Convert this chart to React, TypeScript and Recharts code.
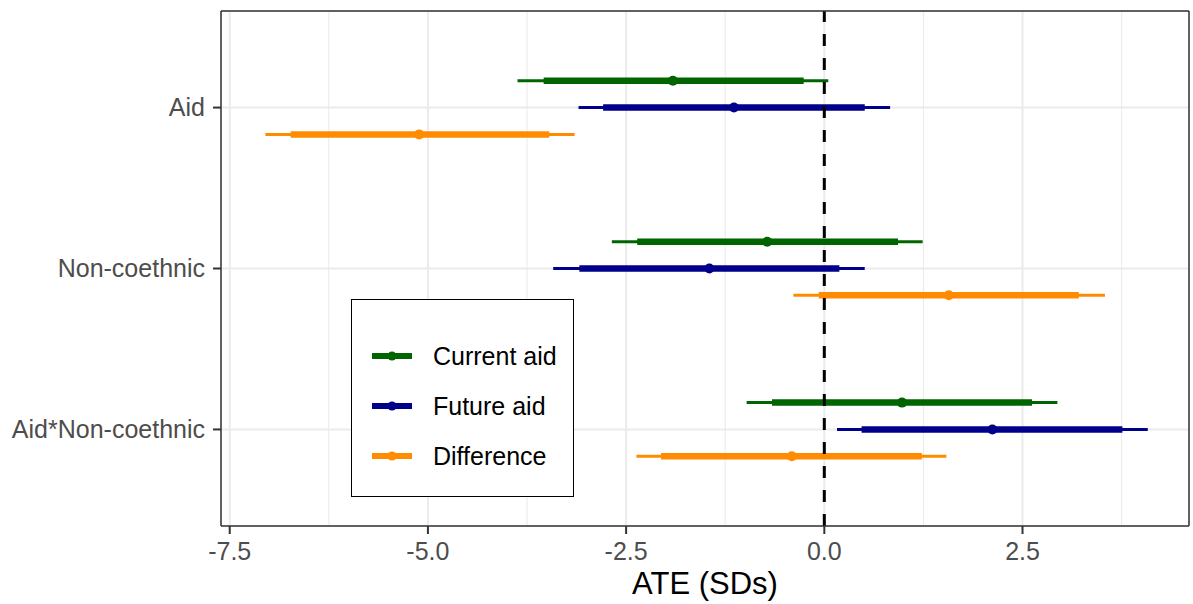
import React from 'react';
import {
  ScatterChart,
  Scatter,
  XAxis,
  YAxis,
  CartesianGrid,
  ErrorBar,
  ReferenceLine,
  Legend,
} from 'recharts';

// ---- data ----
const categories = ['Aid', 'Non-coethnic', 'Aid*Non-coethnic'];
const seriesNames = ['Current aid', 'Future aid', 'Difference'];
const seriesColors = ['#006400', '#00008B', '#FF8C00'];

const currentEst = [-1.91, -0.72, 0.98];
const currentLo95 = [-3.87, -2.68, -0.98];
const currentLo90 = [-3.54, -2.36, -0.66];
const currentHi90 = [-0.26, 0.93, 2.62];
const currentHi95 = [0.05, 1.24, 2.94];

const futureEst = [-1.14, -1.45, 2.12];
const futureLo95 = [-3.1, -3.42, 0.16];
const futureLo90 = [-2.79, -3.09, 0.47];
const futureHi90 = [0.51, 0.19, 3.76];
const futureHi95 = [0.83, 0.51, 4.08];

const diffEst = [-5.11, 1.57, -0.41];
const diffLo95 = [-7.05, -0.39, -2.37];
const diffLo90 = [-6.73, -0.07, -2.06];
const diffHi90 = [-3.47, 3.21, 1.23];
const diffHi95 = [-3.15, 3.54, 1.54];

const xMajorTicks = [-7.5, -5, -2.5, 0, 2.5];
const xMinorTicks = [-6.25, -3.75, -1.25, 1.25, 3.75];
const xDomain = [-7.61, 4.6];
const yDomain = [0.4, 3.6];
const yLevels = [3, 2, 1];
const dodge = [1 / 6, 0, -1 / 6];

const allSeries = [
  [currentEst, currentLo95, currentLo90, currentHi90, currentHi95],
  [futureEst, futureLo95, futureLo90, futureHi90, futureHi95],
  [diffEst, diffLo95, diffLo90, diffHi90, diffHi95],
];

const seriesData = allSeries.map(([est, lo95, lo90, hi90, hi95], s) =>
  categories.map((c, i) => ({
    category: c,
    x: est[i],
    y: yLevels[i] + dodge[s],
    e95: [est[i] - lo95[i], hi95[i] - est[i]],
    e90: [est[i] - lo90[i], hi90[i] - est[i]],
  }))
);

const catLabel = (v: number) => {
  const idx = yLevels.indexOf(Math.round(v));
  return idx >= 0 ? categories[idx] : '';
};

const FONT = '"Liberation Sans", Arial, Helvetica, sans-serif';

const LegendBox = () => (
  <div
    style={{
      width: 223,
      height: 198,
      border: '1.5px solid #000',
      boxSizing: 'border-box',
      background: '#fff',
      position: 'relative',
      fontFamily: FONT,
    }}
  >
    {seriesNames.map((name, i) => (
      <div
        key={name}
        style={{
          position: 'absolute',
          left: 20,
          top: 56 + i * 50 - 15,
          height: 30,
          display: 'flex',
          alignItems: 'center',
        }}
      >
        <svg width={40} height={30} style={{ display: 'block' }}>
          <line x1={0} x2={40} y1={15} y2={15} stroke={seriesColors[i]} strokeWidth={6} />
          <circle cx={20} cy={15} r={4.5} fill={seriesColors[i]} />
        </svg>
        <span style={{ marginLeft: 21, fontSize: 25, color: '#000', whiteSpace: 'nowrap' }}>{name}</span>
      </div>
    ))}
  </div>
);

export default function App() {
  return (
    <div style={{ position: 'fixed', left: 0, top: 0, background: '#fff', fontFamily: FONT }}>
      <ScatterChart width={1193} height={604} margin={{ top: 11, right: 4, left: 0, bottom: 0 }}>
        <CartesianGrid stroke="#EBEBEB" strokeWidth={2} />
        {xMinorTicks.map((t) => (
          <ReferenceLine key={'m' + t} x={t} stroke="#EBEBEB" strokeWidth={1.1} />
        ))}
        <XAxis
          type="number"
          dataKey="x"
          domain={xDomain}
          allowDataOverflow
          ticks={xMajorTicks}
          tickFormatter={(v: number) => v.toFixed(1)}
          height={78}
          tickSize={8}
          tickMargin={8}
          tick={{ fill: '#4D4D4D', fontSize: 25 }}
          tickLine={{ stroke: '#333333', strokeWidth: 2 }}
          axisLine={{ stroke: '#333333', strokeWidth: 1.5 }}
          label={{ value: 'ATE (SDs)', position: 'insideBottom', offset: 10, fill: '#000', fontSize: 31 }}
        />
        <YAxis
          type="number"
          dataKey="y"
          domain={yDomain}
          allowDataOverflow
          ticks={[1, 2, 3]}
          tickFormatter={catLabel}
          width={221}
          tickSize={8}
          tickMargin={8}
          tick={{ fill: '#4D4D4D', fontSize: 25 }}
          tickLine={{ stroke: '#333333', strokeWidth: 2 }}
          axisLine={{ stroke: '#333333', strokeWidth: 1.5 }}
        />
        {seriesData.map((d, s) => (
          <Scatter
            key={seriesNames[s]}
            name={seriesNames[s]}
            data={d}
            fill={seriesColors[s]}
            isAnimationActive={false}
            shape={(p: any) => <circle cx={p.cx} cy={p.cy} r={5} fill={seriesColors[s]} />}
          >
            <ErrorBar dataKey="e95" direction="x" width={0} stroke={seriesColors[s]} strokeWidth={3} isAnimationActive={false} />
            <ErrorBar dataKey="e90" direction="x" width={0} stroke={seriesColors[s]} strokeWidth={6.5} isAnimationActive={false} />
          </Scatter>
        ))}
        <ReferenceLine x={0} stroke="#000" strokeWidth={3} strokeDasharray="12 12" />
        <ReferenceLine x={xDomain[1]} stroke="#333333" strokeWidth={1.5} />
        <ReferenceLine y={yDomain[1]} stroke="#333333" strokeWidth={1.5} />
        <Legend
          layout="horizontal"
          verticalAlign="middle"
          align="center"
          content={() => <LegendBox />}
          wrapperStyle={{ left: 351, top: 299, width: 223, height: 198 }}
        />
      </ScatterChart>
    </div>
  );
}
